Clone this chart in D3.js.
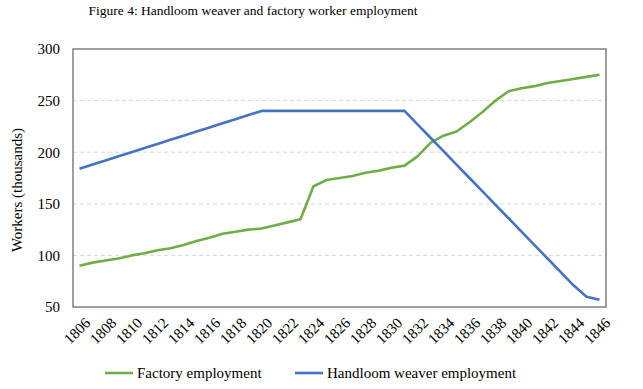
<!DOCTYPE html>
<html>
<head>
<meta charset="utf-8">
<script src="https://d3js.org/d3.v7.min.js"></script>
<style>
  body { margin: 0; background: #fff; }
  svg text { font-family: "Liberation Serif", "Times New Roman", Times, serif !important; fill: #000; }
</style>
</head>
<body>
<div id="chart"></div>
<script>
// chart size and plot area
const width = 643;
const height = 389;
const margin = {left: 73, right: 37, top: 49, bottom: 82};
const serif = "'Liberation Serif', 'Times New Roman', serif";

// data
const years = d3.range(1806, 1847);
const factory = [90, 93, 95, 97, 100, 102, 105, 107, 110, 114,
                 117, 121, 123, 125, 126, 129, 132, 135, 167, 173,
                 175, 177, 180, 182, 185, 187, 196, 209, 216, 220,
                 229, 239, 250, 259, 262, 264, 267, 269, 271, 273, 275];
const handloom = [184, 188, 192, 196, 200, 204, 208, 212, 216, 220,
                  224, 228, 232, 236, 240, 240, 240, 240, 240, 240,
                  240, 240, 240, 240, 240, 240, 227, 214, 201, 188,
                  175, 162, 149, 136, 123, 110, 97, 84, 71, 60, 57];
const yTicks = [50, 100, 150, 200, 250, 300];
const xLabels = years.filter((d, i) => i % 2 === 0);

const series = [
  {name: "Factory employment", values: factory, color: "#70ad47"},
  {name: "Handloom weaver employment", values: handloom, color: "#4472c4"}
];

const svg = d3.select("#chart")
  .append("svg")
  .attr("width", width)
  .attr("height", height)
  .style("font-family", serif);

svg.append("rect")
  .attr("width", width)
  .attr("height", height)
  .attr("fill", "#fff");

// title
svg.append("text")
  .attr("x", 253)
  .attr("y", 15)
  .attr("text-anchor", "middle")
  .style("font-size", "13.5px")
  .text("Figure 4: Handloom weaver and factory worker employment");

// scales
const xScale = d3.scaleBand()
  .domain(years)
  .range([margin.left, width - margin.right]);

const yScale = d3.scaleLinear()
  .domain([50, 300])
  .range([height - margin.bottom, margin.top]);

const xMid = d => xScale(d) + xScale.bandwidth() / 2;

// dashed grid lines
svg.append("g")
  .selectAll("line")
  .data(yTicks.slice(1, -1))
  .enter()
  .append("line")
    .attr("x1", margin.left)
    .attr("x2", width - margin.right)
    .attr("y1", d => yScale(d))
    .attr("y2", d => yScale(d))
    .attr("stroke", "#d9d9d9")
    .attr("stroke-width", 1)
    .attr("stroke-dasharray", "4,3");

// y axis labels
const yAxis = svg.append("g")
  .attr("transform", `translate(${margin.left - 5}, 0)`)
  .call(d3.axisLeft(yScale).tickValues(yTicks).tickSize(0).tickPadding(8));
yAxis.attr("font-family", null).attr("font-size", null);
yAxis.select(".domain").remove();
yAxis.selectAll("text")
  .style("font-family", serif)
  .style("font-size", "15px")
  .attr("fill", "#000");

// x axis labels, rotated
const xAxis = svg.append("g")
  .attr("transform", `translate(0, ${height - margin.bottom})`)
  .call(d3.axisBottom(xScale).tickValues(xLabels).tickSize(0));
xAxis.attr("font-family", null).attr("font-size", null);
xAxis.select(".domain").remove();
xAxis.selectAll("text")
  .style("font-family", serif)
  .style("font-size", "15px")
  .attr("fill", "#000")
  .attr("text-anchor", "end")
  .attr("dy", "0.35em")
  .attr("transform", "translate(6, 11) rotate(-45)");

// y axis title
svg.append("text")
  .attr("transform", "translate(22, 190) rotate(-90)")
  .attr("text-anchor", "middle")
  .style("font-size", "15px")
  .text("Workers (thousands)");

// lines
const line = d3.line()
  .x((d, i) => xMid(years[i]))
  .y(d => yScale(d));

svg.selectAll(".series")
  .data(series)
  .enter()
  .append("path")
    .attr("class", "series")
    .attr("d", d => line(d.values))
    .attr("fill", "none")
    .attr("stroke", d => d.color)
    .attr("stroke-width", 2.6)
    .attr("stroke-linejoin", "round");

// plot frame
svg.append("rect")
  .attr("x", margin.left)
  .attr("y", margin.top)
  .attr("width", width - margin.left - margin.right)
  .attr("height", height - margin.top - margin.bottom)
  .attr("fill", "none")
  .attr("stroke", "#808080")
  .attr("stroke-width", 1.5);

// legend
const legendX = [105, 295];
const legend = svg.selectAll(".legend")
  .data(series)
  .enter()
  .append("g")
    .attr("class", "legend")
    .attr("transform", (d, i) => `translate(${legendX[i]}, 373)`);

legend.append("line")
  .attr("x1", 0)
  .attr("x2", 28)
  .attr("stroke", d => d.color)
  .attr("stroke-width", 2.6);

legend.append("text")
  .attr("x", 32)
  .attr("dy", "0.35em")
  .style("font-size", "15px")
  .text(d => d.name);
</script>
</body>
</html>
